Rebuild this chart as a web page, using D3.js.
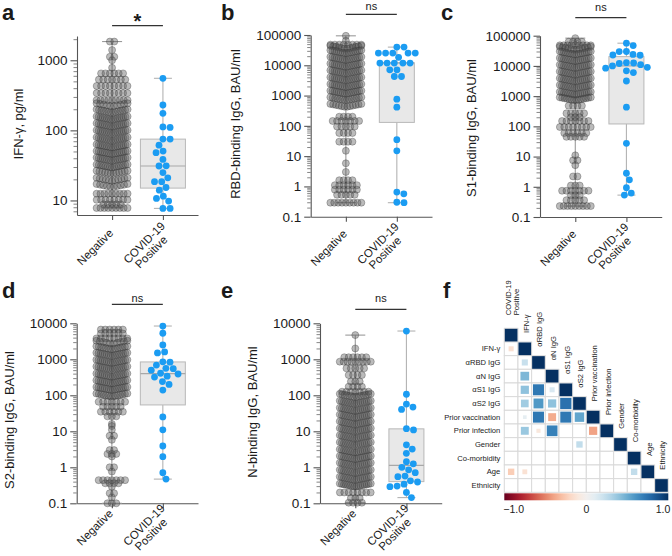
<!DOCTYPE html>
<html><head><meta charset="utf-8">
<script src="https://cdn.jsdelivr.net/npm/d3@7"></script>
<style>
body{margin:0;background:#fff}
svg text{font-family:"Liberation Sans",Arial,Helvetica,sans-serif;fill:#1a1a1a}
</style></head><body>
<svg id="fig" width="672" height="556"></svg>
<script>
// ---------------- data ----------------
const groups = ["Negative", "COVID-19 Positive"];
const yLabels = ["IFN-γ, pg/ml", "RBD-binding IgG, BAU/ml", "S1-binding IgG, BAU/ml", "S2-binding IgG, BAU/ml", "N-binding IgG, BAU/ml"];
const sigLabels = ["*", "ns", "ns", "ns", "ns"];
const ticksA = [10, 100, 1000];
const ticksBC = [0.1, 1, 10, 100, 1000, 10000, 100000];
const ticksDE = [0.1, 1, 10, 100, 1000, 10000];

// Negative group: [value level, number of participants at that level]
const negA = [[1850,2],[1400,1],[1120,2],[1000,1],[780,1],[650,6],[530,7],[430,8],[340,8],[270,9],[220,10],
  [180,14],[143,16],[114,16],[91,16],[72,16],[57,16],[46,16],[37,16],[29.5,15],
  [24,12],[19,11],[15.5,10],[12.5,9],[10.2,8],[8.8,5],[7.8,9]];
const negB = [[94000,1],[65000,1],[48000,8],[35000,12],[25000,16],[15000,16],[9000,16],[5400,16],[3200,16],[1900,16],
  [1150,16],[700,14],[420,12],[200,4],[145,7],[95,5],[58,4],[30,4],[15,1],[5.8,1],[3,1],[1.6,4],[1.1,6],[0.78,6],[0.53,5],[0.29,9]];
const negC = [[83000,1],[63000,4],[48000,9],[34000,12],[24000,16],[14500,16],[8700,16],[5200,16],[3100,16],[1850,16],
  [1100,16],[720,14],[480,4],[270,5],[200,3],[150,7],[95,8],[60,6],[45,5],[11,1],[7.5,2],[5.2,1],[2.2,2],[1.1,3],
  [0.74,7],[0.52,3],[0.36,5],[0.23,9]];
const negD = [[6700,6],[5200,6],[3800,8],[2700,10],[1900,14],[1250,16],[800,16],[520,16],[330,16],[215,16],[140,16],[92,14],
  [66,7],[48,5],[35,6],[26,3],[16,1],[14,1],[11,1],[7.5,2],[5.8,1],[3,2],[2.35,3],[2,1],[1,2],[0.76,1],[0.44,7],[0.36,4],
  [0.29,1],[0.19,2],[0.146,1],[0.1,3]];
const negE = [[4700,1],[2000,1],[1140,6],[860,9],[560,5],[365,4],[240,3],[174,4],[126,7],
  [90,14],[58,16],[37,16],[24,16],[15.5,16],[10,16],[6.4,16],[4.1,16],[2.6,16],[1.7,16],[1.1,16],[0.7,16],[0.45,16],
  [0.29,16],[0.2,8],[0.14,3],[0.104,4]];

// COVID-19 positive group: individual values
const posA = [553,230,175,110,112,75,75,61.5,48,50.6,38.5,31.2,31,25,21,18.5,18.5,15.3,14,11.5,10.7,9.8,7.7,7.7];
const posB = [39800,39800,25300,25300,25300,25300,25300,18300,11800,11800,11800,11800,11800,7100,7100,4270,4270,760,415,35,15,0.65,0.57,0.3,0.29];
const posC = [56500,47000,30000,29800,24000,23000,22500,12800,12500,12000,11000,10000,9000,8400,6900,6000,3170,430,27.5,2.8,1.7,0.93,0.62,0.53];
const posD = [8400,5300,2500,1600,1500,850,830,690,560,550,500,410,390,340,320,240,200,140,25,11,3.9,1.97,0.71,0.47];
const posE = [6100,107,57,47,40.6,11.8,10.9,4.2,3.2,2.45,1.43,1.25,1.0,0.85,0.71,0.57,0.55,0.42,0.39,0.34,0.30,0.29,0.2,0.144];

// Box summaries of the positive group as drawn: [Q1, median, Q3]
const boxA = [15, 31, 75];
const boxB = [130, 12000, 12000];
const boxC = [120, 10000, 20300];
const boxD = [54, 400, 845];
const boxE = [0.40, 1.13, 11.7];

// Correlation matrix (lower triangle, row by row)
const corrVars = ["COVID-19 Positive","IFN-γ","αRBD IgG","αN IgG","αS1 IgG","αS2 IgG","Prior vaccination","Prior infection","Gender","Co-morbidity","Age","Ethnicity"];
const corrValues = [
  [1],
  [-0.15,1],
  [0,0.22,1],
  [0,0.45,0,1],
  [0,0.4,0.72,0.15,1],
  [0,0.35,0.58,0.4,0.75,1],
  [0,0.08,0.72,-0.37,0.72,0.53,1],
  [0,0.37,-0.1,0.68,0,0,-0.4,1],
  [0,0,0,0,0,0.24,0,0,1],
  [0,0,0,0,0,0,0,0,0,1],
  [-0.24,-0.14,0,0,0,0,0,0,0,0.24,1],
  [0,0,0,0,0,0,0,0,0,0,0,1]
];
const colorbarTicks = [-1, 0, 1];

// ---------------- layout ----------------
const svg = d3.select("#fig");
const FONT = '"Liberation Sans",Arial,Helvetica,sans-serif';

const panels = [
  {letter:"a", neg:negA, pos:posA, box:boxA, ticks:ticksA, ylab:yLabels[0], sig:sigLabels[0], lx:2, ly:20,
   x0:77, x1:198, yB:215, yT:36, dom:[6.2,2220], boxW:45, sigLineY:25.7, sigTextY:28, labX:18, labY:124, lab:[16,13]},
  {letter:"b", neg:negB, pos:posB, box:boxB, ticks:ticksBC, ylab:yLabels[1], sig:sigLabels[1], lx:221, ly:20,
   x0:310.7, x1:432, yB:216.7, yT:35, dom:[0.1,100000], boxW:35, sigLineY:14.3, sigTextY:9.5, labX:235, labY:124, lab:[15,12]},
  {letter:"c", neg:negC, pos:posC, box:boxC, ticks:ticksBC, ylab:yLabels[2], sig:sigLabels[2], lx:441, ly:20,
   x0:540, x1:661.7, yB:217, yT:35.7, dom:[0.1,100000], boxW:35, sigLineY:17.7, sigTextY:10.5, labX:471, labY:128, lab:[15,12]},
  {letter:"d", neg:negD, pos:posD, box:boxD, ticks:ticksDE, ylab:yLabels[3], sig:sigLabels[3], lx:2, ly:298,
   x0:76.7, x1:198, yB:503.3, yT:323.3, dom:[0.1,10000], boxW:45, sigLineY:304.3, sigTextY:301.5, labX:9, labY:420, lab:[8,7]},
  {letter:"e", neg:negE, pos:posE, box:boxE, ticks:ticksDE, ylab:yLabels[4], sig:sigLabels[4], lx:221, ly:298,
   x0:320, x1:441.7, yB:503.3, yT:323.3, dom:[0.1,10000], boxW:35, sigLineY:309.3, sigTextY:302, labX:252, labY:412, lab:[8,7]}
];

function swarm(values, y, cx, d) {
  const pts = values.map(v => ({v, y:y(v)})).sort((a,b)=>a.y-b.y);
  const placed = [];
  for (const p of pts) {
    const cands = [0];
    for (const q of placed) {
      const dy = p.y - q.y;
      if (Math.abs(dy) < d) { const dx = Math.sqrt(d*d - dy*dy); cands.push(q.dx + dx, q.dx - dx); }
    }
    cands.sort((a,b)=>Math.abs(a)-Math.abs(b));
    for (const c of cands) {
      if (placed.every(q => (q.dx-c)**2 + (q.y-p.y)**2 >= d*d - 0.01)) { p.dx = c; break; }
    }
    placed.push(p);
  }
  placed.forEach(p => p.x = cx + p.dx);
  return placed;
}

function minorTicks(dom) {
  const out = [];
  for (let e = Math.floor(Math.log10(dom[0])); e <= Math.ceil(Math.log10(dom[1])); e++) {
    for (let k = 2; k <= 9; k++) { const v = k*Math.pow(10,e); if (v >= dom[0] && v <= dom[1]) out.push(v); }
  }
  return out;
}

panels.forEach(p => {
  const g = svg.append("g");
  const y = d3.scaleLog().domain(p.dom).range([p.yB, p.yT]);
  const x = d3.scalePoint().domain(groups).range([p.x0, p.x1]).padding(0.69);
  const fmt = d3.format("~g");

  // y axis
  const ya = g.append("g").attr("transform", `translate(${p.x0},0)`)
    .call(d3.axisLeft(y).tickValues(p.ticks).tickFormat(fmt).tickSize(6.5).tickSizeOuter(0).tickPadding(3));
  ya.select(".domain").attr("stroke","#555").attr("stroke-width",1.1);
  ya.selectAll(".tick line").attr("stroke","#555").attr("stroke-width",1.1);
  ya.selectAll(".tick text").attr("font-size",13.5).attr("font-family",FONT).attr("fill","#1a1a1a");
  const ym = g.append("g").attr("transform", `translate(${p.x0},0)`)
    .call(d3.axisLeft(y).tickValues(minorTicks(p.dom)).tickFormat("").tickSize(3.5).tickSizeOuter(0));
  ym.select(".domain").remove();
  ym.selectAll(".tick line").attr("stroke","#666").attr("stroke-width",0.8);

  // x axis
  const xa = g.append("g").attr("transform", `translate(0,${p.yB})`)
    .call(d3.axisBottom(x).tickFormat("").tickSize(5).tickSizeOuter(0));
  xa.select(".domain").attr("stroke","#555").attr("stroke-width",1.1);
  xa.selectAll(".tick line").attr("stroke","#555").attr("stroke-width",1.1);

  // x labels rotated
  const fs = 11.5;
  groups.forEach((name, gi) => {
    const parts = name === "COVID-19 Positive" ? ["COVID-19","Positive"] : [name];
    const ax = x(name) + (gi === 0 ? -1 : 4), ay = p.yB + p.lab[gi];
    const t = g.append("g").attr("transform", `translate(${ax},${ay}) rotate(-45)`);
    if (parts.length === 1) {
      t.append("text").attr("text-anchor","end").attr("dy","0.35em").attr("font-size",fs).text(parts[0]);
    } else {
      t.append("text").attr("text-anchor","end").attr("y",-5.75).attr("dy","0.35em").attr("font-size",fs).text(parts[0]);
      t.append("text").attr("text-anchor","end").attr("x",-8).attr("y",5.75).attr("dy","0.35em").attr("font-size",fs).text(parts[1]);
    }
  });

  // y label
  g.append("text").attr("transform", `translate(${p.labX},${p.labY}) rotate(-90)`)
    .attr("text-anchor","middle").attr("dy","0.35em").attr("font-size",13).text(p.ylab);

  // panel letter
  svg.append("text").attr("x",p.lx).attr("y",p.ly).attr("font-size",22).attr("font-weight","bold").attr("fill","#111").text(p.letter);

  // significance
  const xn = x(groups[0]), xp = x(groups[1]);
  g.append("line").attr("x1",xn).attr("x2",xp).attr("y1",p.sigLineY).attr("y2",p.sigLineY)
    .attr("stroke","#333").attr("stroke-width",1.2);
  if (p.sig === "*") {
    g.append("text").attr("x",(xn+xp)/2).attr("y",p.sigTextY).attr("text-anchor","middle")
      .attr("font-size",20).attr("font-weight","bold").text("*");
  } else {
    g.append("text").attr("x",(xn+xp)/2).attr("y",p.sigTextY).attr("text-anchor","middle")
      .attr("font-size",11).text(p.sig);
  }

  // negative whiskers
  const negVals = [];
  p.neg.forEach(([v,n]) => { for (let k=0;k<n;k++) negVals.push(v); });
  const nMin = d3.min(negVals), nMax = d3.max(negVals);
  const wc = "#9a9a9a";
  g.append("line").attr("x1",xn).attr("x2",xn).attr("y1",y(nMin)).attr("y2",y(nMax)).attr("stroke",wc).attr("stroke-width",1.1);
  [nMin,nMax].forEach(v => g.append("line").attr("x1",xn-10).attr("x2",xn+10).attr("y1",y(v)).attr("y2",y(v)).attr("stroke",wc).attr("stroke-width",1.1));

  // positive box
  const [q1, med, q3] = p.box;
  const pMin = d3.min(p.pos), pMax = d3.max(p.pos);
  g.append("line").attr("x1",xp).attr("x2",xp).attr("y1",y(pMin)).attr("y2",y(pMax)).attr("stroke","#b3b3b3").attr("stroke-width",1.1);
  [pMin,pMax].forEach(v => g.append("line").attr("x1",xp-9).attr("x2",xp+9).attr("y1",y(v)).attr("y2",y(v)).attr("stroke","#b3b3b3").attr("stroke-width",1.1));
  g.append("rect").attr("x",xp-p.boxW/2).attr("width",p.boxW).attr("y",y(q3)).attr("height",y(q1)-y(q3))
    .attr("fill","#e8e8e8").attr("stroke","#b8b8b8").attr("stroke-width",1);
  g.append("line").attr("x1",xp-p.boxW/2).attr("x2",xp+p.boxW/2).attr("y1",y(med)).attr("y2",y(med)).attr("stroke","#a8a8a8").attr("stroke-width",1.1);

  // negative dots: each level is a row; crowded rows fan out into a chevron (Prism style)
  const negPts = [];
  p.neg.forEach(([v,n]) => {
    const s = Math.min(4.4, 31/Math.max(n-1,1));
    for (let k=0;k<n;k++) { const dx = (k-(n-1)/2)*s; negPts.push({v, dx, fan: n > 9 ? 0.2*Math.abs(dx) : 0}); }
  });
  g.append("g").selectAll("circle").data(negPts).join("circle")
    .attr("cx",d=>xn + d.dx).attr("cy",d=>y(d.v) - d.fan).attr("r",3.5)
    .attr("fill","#555").attr("fill-opacity",0.4)
    .attr("stroke","#333").attr("stroke-width",0.55).attr("stroke-opacity",0.6);

  // positive dots (swarm)
  const posPts = swarm(p.pos, y, xp, 7.2);
  g.append("g").selectAll("circle").data(posPts).join("circle")
    .attr("cx",d=>d.x).attr("cy",d=>d.y).attr("r",3.4).attr("fill","#1b9cf2");
});

// ---------------- panel f ----------------
(function(){
  const n = corrVars.length;
  const X0 = 504.3, Y0 = 328.3, W = 164;
  const band = d3.scaleBand().domain(d3.range(n)).range([0, W]);
  const c = band.bandwidth();
  const color = r => d3.interpolateRdBu((r+1)/2);
  const g = svg.append("g").attr("transform", `translate(${X0},${Y0})`);

  svg.append("text").attr("x",443).attr("y",298).attr("font-size",22).attr("font-weight","bold").attr("fill","#111").text("f");

  const cells = [];
  corrValues.forEach((row,i) => row.forEach((r,j) => cells.push({i,j,r})));
  g.selectAll("rect.cell").data(cells).join("rect").attr("class","cell")
    .attr("x",d=>band(d.j)).attr("y",d=>band(d.i)).attr("width",c).attr("height",c)
    .attr("fill","#fff").attr("stroke","#d9d9d9").attr("stroke-width",1);
  g.selectAll("rect.sq").data(cells.filter(d=>d.r!==0)).join("rect").attr("class","sq")
    .each(function(d){
      const side = (d.i===d.j ? c - 1 : c*Math.sqrt(Math.abs(d.r)) * 0.95);
      d3.select(this).attr("x",band(d.j)+(c-side)/2).attr("y",band(d.i)+(c-side)/2)
        .attr("width",side).attr("height",side).attr("fill",color(d.r));
    });

  // row labels (first variable has no row label)
  g.selectAll("text.row").data(corrVars.slice(1)).join("text").attr("class","row")
    .attr("x",-4).attr("y",(d,i)=>band(i+1)+c/2).attr("dy","0.35em").attr("text-anchor","end")
    .attr("font-size",7.6).text(d=>d);
  // column labels
  corrVars.forEach((name,j) => {
    const cx = band(j) + c/2 + 1.3, yb = band(j) - 9 + (j===0 ? -4 : 0);
    const t = g.append("g").attr("transform", `translate(${cx},${yb}) rotate(-90)`);
    if (name === "COVID-19 Positive") {
      t.append("text").attr("y",-3.8).attr("dy","0.35em").attr("font-size",7.6).text("COVID-19");
      t.append("text").attr("y",3.8).attr("dy","0.35em").attr("font-size",7.6).text("Positive");
    } else {
      t.append("text").attr("dy","0.35em").attr("font-size",7.6).text(name);
    }
  });

  // colorbar
  const defs = svg.append("defs");
  const lg = defs.append("linearGradient").attr("id","rdbu").attr("x1","0%").attr("x2","100%");
  d3.range(0,1.0001,0.05).forEach(t => lg.append("stop").attr("offset",(t*100)+"%").attr("stop-color",d3.interpolateRdBu(t)));
  const cb = d3.scaleLinear().domain([-1,1]).range([X0, X0+W]);
  svg.append("rect").attr("x",cb(-1)).attr("y",493.3).attr("width",cb(1)-cb(-1)).attr("height",7).attr("fill","url(#rdbu)");
  colorbarTicks.forEach(v => {
    svg.append("text").attr("x", v===-1 ? cb(v)-1 : v===1 ? cb(v)+2 : cb(v)).attr("y",513)
      .attr("text-anchor", v===-1 ? "start" : v===1 ? "end" : "middle")
      .attr("font-size",10.5).text(v===0 ? "0" : d3.format(".1f")(v));
  });
})();
</script>
</body></html>
